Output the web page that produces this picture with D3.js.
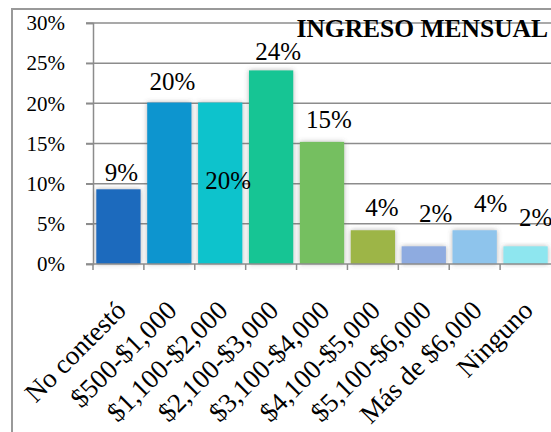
<!DOCTYPE html>
<html>
<head>
<meta charset="utf-8">
<script src="https://cdn.jsdelivr.net/npm/d3@7"></script>
<style>
  body { margin: 0; background: #fff; }
</style>
</head>
<body>
<div id="chart"></div>
<script>
// Data
const categories = ["No contestó", "$500-$1,000", "$1,100-$2,000", "$2,100-$3,000",
                    "$3,100-$4,000", "$4,100-$5,000", "$5,100-$6,000", "Más de $6,000", "Ninguno"];
const values = [0.093, 0.201, 0.201, 0.241, 0.152, 0.042, 0.022, 0.042, 0.022];
const valueLabels = ["9%", "20%", "20%", "24%", "15%", "4%", "2%", "4%", "2%"];
const yTicks = [0, 0.05, 0.10, 0.15, 0.20, 0.25, 0.30];
const colors = ["#1c6bbd", "#0c95cf", "#10c3cc", "#16c594", "#74bf60",
                "#9db547", "#8eabe0", "#8ec4ec", "#8ee6ef"];
const title = "INGRESO MENSUAL";

const W = 551, H = 432;
const plot = {left: 93, right: 551, top: 23, bottom: 264};
const serif = "'Liberation Serif', 'Times New Roman', 'DejaVu Serif', serif";

const svg = d3.select("#chart").append("svg")
  .attr("width", W).attr("height", H);

// shadow for bars
const defs = svg.append("defs");
defs.append("filter").attr("id", "glow")
    .attr("x", "-20%").attr("y", "-20%").attr("width", "140%").attr("height", "140%")
  .append("feDropShadow")
    .attr("dx", 0).attr("dy", 0)
    .attr("stdDeviation", 2.5)
    .attr("flood-color", "#555").attr("flood-opacity", 0.45);

// outer frame
svg.append("rect")
  .attr("x", 12).attr("y", 9)
  .attr("width", 600).attr("height", 500)
  .attr("fill", "none").attr("stroke", "#999").attr("stroke-width", 2);

const x = d3.scaleBand()
  .domain(categories)
  .range([plot.left, plot.right])
  .paddingInner(0.13).paddingOuter(0.065);

const y = d3.scaleLinear()
  .domain([0, 0.3])
  .range([plot.bottom, plot.top]);

// gridlines
svg.append("g").selectAll("line")
  .data(yTicks.slice(1))
  .enter().append("line")
    .attr("x1", plot.left - 7).attr("x2", plot.right)
    .attr("y1", d => y(d)).attr("y2", d => y(d))
    .attr("stroke", "#8c8c8c").attr("stroke-width", 1.5);

// y axis
const yAxis = svg.append("g")
  .attr("transform", `translate(${plot.left},0)`)
  .call(d3.axisLeft(y).tickValues(yTicks).tickFormat(d3.format(".0%"))
          .tickSize(7).tickPadding(21));
yAxis.attr("font-family", null);
yAxis.select(".domain").attr("stroke", "#8c8c8c").attr("stroke-width", 1.5);
yAxis.selectAll(".tick line").attr("stroke", "#8c8c8c").attr("stroke-width", 1.5);
yAxis.selectAll("text")
  .style("font-family", serif)
  .style("font-size", "21px")
  .attr("fill", "#000");

// bars
svg.append("g").selectAll("rect")
  .data(categories)
  .enter().append("rect")
    .attr("x", d => x(d))
    .attr("y", (d, i) => y(values[i]))
    .attr("width", x.bandwidth())
    .attr("height", (d, i) => plot.bottom - y(values[i]))
    .attr("fill", (d, i) => colors[i])
    .attr("filter", "url(#glow)");

// x axis line + ticks at category boundaries
svg.append("line")
  .attr("x1", plot.left - 7).attr("x2", plot.right)
  .attr("y1", plot.bottom).attr("y2", plot.bottom)
  .attr("stroke", "#8c8c8c").attr("stroke-width", 1.5);
svg.append("g").selectAll("line")
  .data(d3.range(categories.length))
  .enter().append("line")
    .attr("x1", i => plot.left + i * x.step()).attr("x2", i => plot.left + i * x.step())
    .attr("y1", plot.bottom).attr("y2", plot.bottom + 6)
    .attr("stroke", "#8c8c8c").attr("stroke-width", 1.5);

// category labels
svg.append("g").selectAll("text")
  .data(categories)
  .enter().append("text")
    .attr("text-anchor", "end")
    .attr("transform", d => `translate(${x(d) + x.bandwidth() / 2 + 9},${plot.bottom + 48}) rotate(-45)`)
    .style("font-family", serif)
    .style("font-size", "27px")
    .text(d => d);

// value labels (manually placed like the original)
const labelNudge = [[3, -8], [3, -13], [8, 86], [7, -10], [7, -14], [9, -14], [12, -24], [16, -18], [10, -20]];
svg.append("g").selectAll("text")
  .data(valueLabels)
  .enter().append("text")
    .attr("text-anchor", "middle")
    .attr("x", (d, i) => x(categories[i]) + x.bandwidth() / 2 + labelNudge[i][0])
    .attr("y", (d, i) => y(values[i]) + labelNudge[i][1])
    .style("font-family", serif)
    .style("font-size", "25px")
    .text(d => d);

// title
svg.append("text")
  .attr("x", 548).attr("y", 37)
  .attr("text-anchor", "end")
  .style("font-family", serif)
  .style("font-size", "25.5px")
  .style("font-weight", "bold")
  .text(title);
</script>
</body>
</html>
